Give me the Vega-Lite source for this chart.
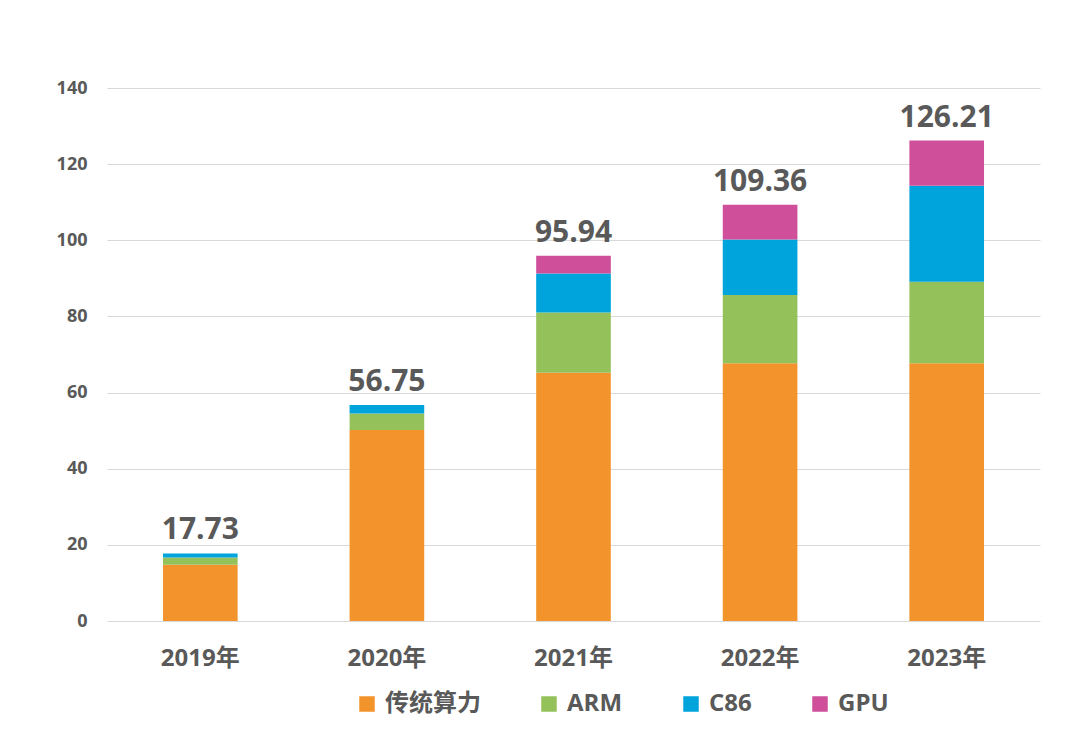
{
  "$schema": "https://vega.github.io/schema/vega-lite/v6.json",
  "width": 933,
  "height": 533,
  "autosize": {"type": "none"},
  "padding": {"left": 107, "top": 88, "right": 40, "bottom": 132},
  "background": "white",
  "config": {
    "view": {"stroke": null},
    "font": "Open Sans, Noto Sans CJK SC, sans-serif"
  },
  "data": {
    "values": [
      {"year": "2019年", "series": "传统算力", "value": 14.8},
      {"year": "2019年", "series": "ARM", "value": 1.9},
      {"year": "2019年", "series": "C86", "value": 1.03},
      {"year": "2019年", "series": "GPU", "value": 0},
      {"year": "2020年", "series": "传统算力", "value": 50.2},
      {"year": "2020年", "series": "ARM", "value": 4.3},
      {"year": "2020年", "series": "C86", "value": 2.25},
      {"year": "2020年", "series": "GPU", "value": 0},
      {"year": "2021年", "series": "传统算力", "value": 65.2},
      {"year": "2021年", "series": "ARM", "value": 15.8},
      {"year": "2021年", "series": "C86", "value": 10.3},
      {"year": "2021年", "series": "GPU", "value": 4.64},
      {"year": "2022年", "series": "传统算力", "value": 67.7},
      {"year": "2022年", "series": "ARM", "value": 17.9},
      {"year": "2022年", "series": "C86", "value": 14.6},
      {"year": "2022年", "series": "GPU", "value": 9.16},
      {"year": "2023年", "series": "传统算力", "value": 67.7},
      {"year": "2023年", "series": "ARM", "value": 21.4},
      {"year": "2023年", "series": "C86", "value": 25.2},
      {"year": "2023年", "series": "GPU", "value": 11.91}
    ]
  },
  "encoding": {
    "x": {
      "field": "year",
      "type": "nominal",
      "sort": null,
      "scale": {"paddingInner": 0.6, "paddingOuter": 0.3},
      "axis": {
        "title": null,
        "labelAngle": 0,
        "domain": false,
        "ticks": false,
        "labelFont": "Open Sans, Noto Sans CJK SC",
        "labelFontSize": 24,
        "labelFontWeight": "bold",
        "labelColor": "#595959",
        "labelPadding": 25
      }
    }
  },
  "layer": [
    {
      "transform": [
        {"calculate": "indexof(['传统算力', 'ARM', 'C86', 'GPU'], datum.series)", "as": "stackOrder"}
      ],
      "mark": {"type": "bar"},
      "encoding": {
        "y": {
          "field": "value",
          "type": "quantitative",
          "stack": "zero",
          "scale": {"domain": [0, 140], "nice": false},
          "axis": {
            "title": null,
            "values": [0, 20, 40, 60, 80, 100, 120, 140],
            "domain": false,
            "ticks": false,
            "gridColor": "#d9d9d9",
            "gridWidth": 1,
            "labelFont": "Open Sans",
            "labelFontSize": 18,
            "labelFontWeight": "bold",
            "labelColor": "#595959",
            "labelPadding": 20
          }
        },
        "color": {
          "field": "series",
          "type": "nominal",
          "sort": ["传统算力", "ARM", "C86", "GPU"],
          "scale": {
            "domain": ["传统算力", "ARM", "C86", "GPU"],
            "range": ["#F3932B", "#95C15B", "#00A4DC", "#CF4F9B"]
          },
          "legend": {
            "title": null,
            "orient": "none",
            "direction": "horizontal",
            "legendX": 248,
            "legendY": 604,
            "symbolType": "square",
            "symbolSize": 240,
            "symbolStrokeWidth": 0,
            "labelFont": "Open Sans, Noto Sans CJK SC",
            "labelFontSize": 24,
            "labelFontWeight": "bold",
            "labelColor": "#595959",
            "labelOffset": 6,
            "columnPadding": 56
          }
        },
        "order": {"field": "stackOrder", "type": "quantitative", "sort": "ascending"}
      }
    },
    {
      "transform": [
        {"aggregate": [{"op": "sum", "field": "value", "as": "total"}], "groupby": ["year"]}
      ],
      "mark": {
        "type": "text",
        "baseline": "bottom",
        "dy": -8,
        "font": "Open Sans",
        "fontSize": 30,
        "fontWeight": "bold",
        "color": "#595959"
      },
      "encoding": {
        "y": {"field": "total", "type": "quantitative"},
        "text": {"field": "total", "type": "quantitative", "format": ".2f"}
      }
    }
  ]
}
